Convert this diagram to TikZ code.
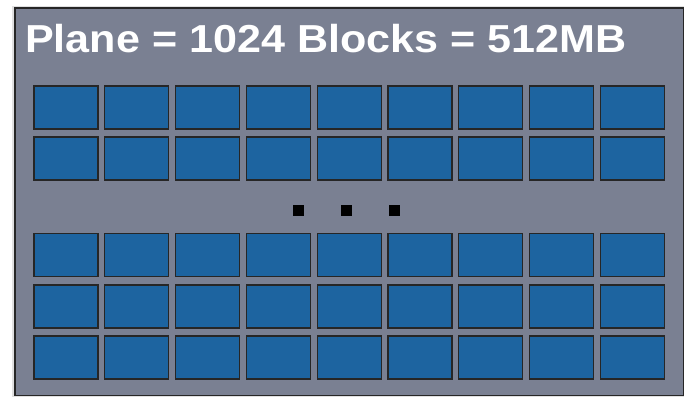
\documentclass[tikz,border=0pt]{standalone}
\usepackage{fontspec}
\setmainfont{Liberation Sans}
\usetikzlibrary{positioning}
\definecolor{planegray}{RGB}{122,128,146}
\definecolor{blockblue}{RGB}{29,100,160}

\begin{document}
\begin{tikzpicture}[x=1pt, y=-1pt,
    plane/.style={draw=black!85, line width=1.2pt, fill=planegray},
    blk/.style={draw=black!85, line width=1.1pt, fill=blockblue,
                minimum width=64pt, minimum height=43pt,
                inner sep=0pt, outer sep=0pt},
    dotbox/.style={fill=black, minimum size=11pt, inner sep=0pt},
    title/.style={text=white, font=\fontsize{39}{43}\selectfont\bfseries,
                  inner sep=0pt, anchor=base west, xscale=1.105, transform shape}]

  \useasboundingbox (0,0) rectangle (684,397);

  %% Plane outline with a soft shadow
  \fill[black!12] (12,6) rectangle (684,397);
  \draw[plane] (15,8) rectangle (683.4,395.5);

  %% Heading
  \node[title] (head) at (25,52) {Plane = 1024 Blocks = 512MB};

  %% Upper two rows of blocks
  \foreach \r/\y in {1/107.5, 2/158.5}
    \foreach \c in {1,...,9}
      \node[blk] (b-\r-\c) at ({66+70.8*(\c-1)},\y) {};

  %% Ellipsis between the row groups
  \node[dotbox] (d1) at (298,210) {};
  \node[dotbox, right=37pt of d1] (d2) {};
  \node[dotbox, right=37pt of d2] (d3) {};

  %% Lower three rows of blocks
  \foreach \r/\y in {3/255, 4/306.5, 5/357.5}
    \foreach \c in {1,...,9}
      \node[blk] (b-\r-\c) at ({66+70.8*(\c-1)},\y) {};
\end{tikzpicture}
\end{document}
